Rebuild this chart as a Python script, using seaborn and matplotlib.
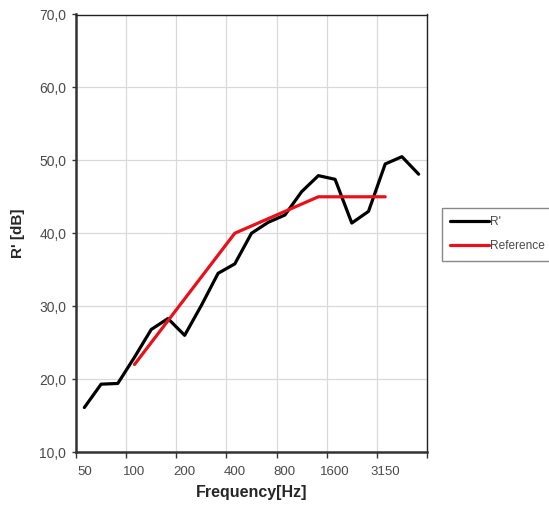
import numpy as np
import pandas as pd
import seaborn as sns
import matplotlib.pyplot as plt
from matplotlib.ticker import FixedLocator, FuncFormatter

# third-octave bands
freqs = ["50", "63", "80", "100", "125", "160", "200", "250", "315", "400", "500",
         "630", "800", "1000", "1250", "1600", "2000", "2500", "3150", "4000", "5000"]
r_prime = [16.1, 19.3, 19.4, 23.0, 26.8, 28.3, 26.0, 30.1, 34.5, 35.8, 40.0,
           41.5, 42.5, 45.7, 47.9, 47.4, 41.4, 43.0, 49.5, 50.5, 48.1]
# shifted reference curve, 100 - 3150 Hz
ref_freqs = freqs[3:19]
reference = [22, 25, 28, 31, 34, 37, 40, 41, 42, 43, 44, 45, 45, 45, 45, 45]
tick_labels = ["50", "100", "200", "400", "800", "1600", "3150"]

band_pos = {f: i for i, f in enumerate(freqs)}
df = pd.concat([
    pd.DataFrame({"band": [band_pos[f] for f in freqs], "dB": r_prime, "series": "R'"}),
    pd.DataFrame({"band": [band_pos[f] for f in ref_freqs], "dB": reference, "series": "Reference"}),
])

sns.set_style("white")
plt.rcParams["font.family"] = ["Liberation Sans", "DejaVu Sans"]

fig = plt.figure(figsize=(5.49, 5.09), dpi=100)
ax = fig.add_axes([76 / 549, 1 - 452 / 509, 351 / 549, 437.5 / 509])

sns.lineplot(data=df, x="band", y="dB", hue="series",
             palette={"R'": "black", "Reference": "#e8101a"},
             linewidth=2.3, ax=ax, legend=True)

ax.set_xlim(-0.5, len(freqs) - 0.5)
ax.set_ylim(10, 70)
ax.set_yticks(np.arange(10, 71, 10))
ax.yaxis.set_major_formatter(FuncFormatter(lambda v, p: f"{v:.1f}".replace(".", ",")))

# labels at every third band, ticks/grid at group boundaries
ax.set_xticks([band_pos[t] for t in tick_labels])
ax.set_xticklabels(tick_labels)
ax.xaxis.set_minor_locator(FixedLocator(np.arange(-0.5, len(freqs), 3)))
ax.xaxis.set_ticks_position("bottom")
ax.yaxis.set_ticks_position("left")
ax.tick_params(axis="x", which="major", length=0, pad=10, labelsize=9.5, labelcolor="#4a4a4a")
ax.tick_params(axis="x", which="minor", length=4, width=1, color="#333333", direction="out")
ax.tick_params(axis="y", length=3, width=1, color="#333333", direction="out",
               pad=4, labelsize=10, labelcolor="#4a4a4a")

ax.grid(False)
ax.grid(True, axis="x", which="minor", color="#d9d9d9", linewidth=0.9)
ax.grid(True, axis="y", which="major", color="#d9d9d9", linewidth=0.9)
ax.set_axisbelow(True)

for side in ["left", "bottom"]:
    ax.spines[side].set_linewidth(1.8)
    ax.spines[side].set_color("#333333")
for side in ["top", "right"]:
    ax.spines[side].set_linewidth(1.0)
    ax.spines[side].set_color("#222222")

ax.set_xlabel("Frequency[Hz]", fontsize=11.5, fontweight="bold", labelpad=5)
ax.set_ylabel("R' [dB]", fontsize=11, fontweight="bold", labelpad=10)

handles, labels = ax.get_legend_handles_labels()
ax.legend(handles, labels, loc="upper left", bbox_to_anchor=(442 / 549, 1 - 208 / 509),
          bbox_transform=fig.transFigure, borderaxespad=0, fontsize=8.6,
          frameon=True, fancybox=False, edgecolor="#888888", framealpha=1,
          handlelength=3.2, handletextpad=0.1, labelcolor="#4a4a4a",
          borderpad=0.7, labelspacing=1.0)

plt.savefig("out.png", dpi=100)
